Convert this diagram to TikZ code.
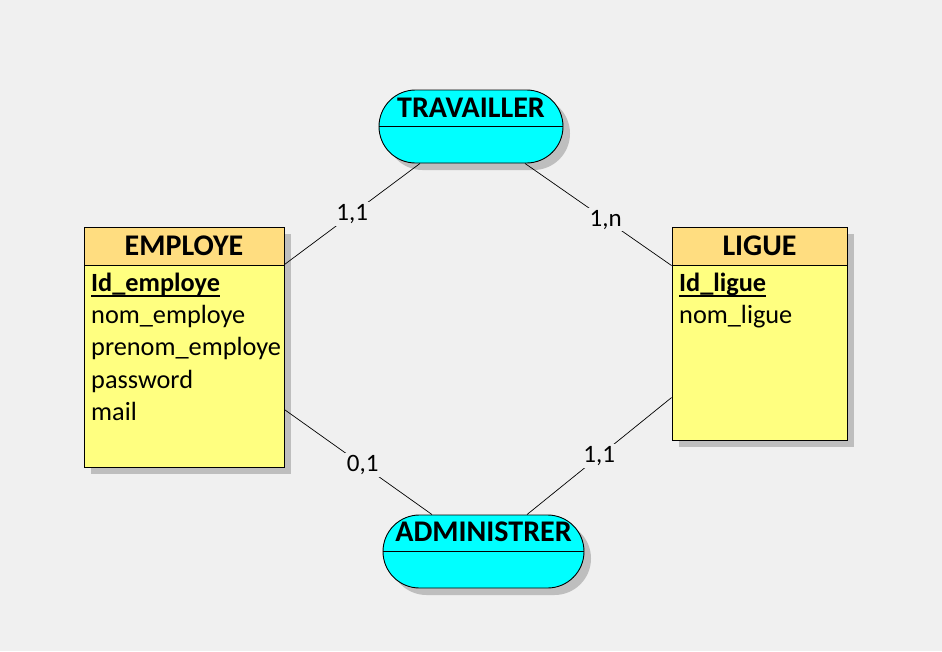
\documentclass[tikz,border=0pt]{standalone}
\usepackage{fontspec}
\setmainfont{Carlito}
\usetikzlibrary{shapes.misc,calc,shadows}
\definecolor{bgc}{RGB}{240,240,240}
\definecolor{headc}{RGB}{255,221,128}
\definecolor{bodyc}{RGB}{255,255,128}
\definecolor{assoc}{RGB}{0,255,255}
\definecolor{shadc}{RGB}{190,190,190}
\begin{document}
\begin{tikzpicture}[x=1pt,y=1pt,
  shad/.style={drop shadow={shadow xshift=7pt,shadow yshift=-7pt,fill=shadc,opacity=1}},
  entbox/.style={draw=black,line width=0.9pt,fill=bodyc,rectangle,inner sep=0pt,shad},
  headbox/.style={draw=black,line width=0.9pt,fill=headc,rectangle,inner sep=0pt},
  assobox/.style={draw=black,line width=0.9pt,fill=assoc,rounded rectangle,inner sep=0pt,shad},
  ttl/.style={anchor=base,inner sep=0pt,font=\fontsize{30}{32}\selectfont\bfseries},
  attr/.style={anchor=base west,inner sep=0pt,font=\fontsize{26.3}{30}\selectfont},
  idattr/.style={attr,font=\fontsize{26.3}{30}\selectfont\bfseries},
  conn/.style={draw=black,line width=0.7pt},
  card/.style={fill=bgc,inner sep=2pt,font=\fontsize{25}{27}\selectfont}]
\fill[bgc] (0,0) rectangle (942,-651);
\useasboundingbox (0,0) rectangle (942,-651);

% EMPLOYE
\node[entbox,minimum width=200pt,minimum height=240pt] (emp) at (184,-347) {};
\node[headbox,minimum width=200pt,minimum height=38pt,anchor=north] (emph) at (emp.north) {};
\node[ttl] (empt) at ($(emp.north)+(0,-29)$) {EMPLOYE};
\node[idattr] (empa1) at (91,-291) {Id\_employe};
\draw[line width=1.1pt] ($(empa1.base west)+(0,-5)$) -- ($(empa1.base east)+(0,-5)$);
\node[attr] (empa2) at (91,-323.3) {nom\_employe};
\node[attr] (empa3) at (91,-355.6) {prenom\_employe};
\node[attr] (empa4) at (91,-388) {password};
\node[attr] (empa5) at (91,-420.3) {mail};

% LIGUE
\node[entbox,minimum width=175pt,minimum height=213pt] (lig) at (759.5,-333.5) {};
\node[headbox,minimum width=175pt,minimum height=38pt,anchor=north] (ligh) at (lig.north) {};
\node[ttl] (ligt) at ($(lig.north)+(0,-29)$) {LIGUE};
\node[idattr] (liga1) at (679,-291) {Id\_ligue};
\draw[line width=1.1pt] ($(liga1.base west)+(0,-5)$) -- ($(liga1.base east)+(0,-5)$);
\node[attr] (liga2) at (679,-323.3) {nom\_ligue};

% TRAVAILLER
\node[assobox,minimum width=184pt,minimum height=73pt] (trav) at (471,-126.5) {};
\draw[line width=0.9pt] (trav.west) -- (trav.east);
\node[ttl] (travt) at (471,-117.3) {TRAVAILLER};

% ADMINISTRER
\node[assobox,minimum width=201pt,minimum height=73pt] (adm) at (483.5,-551.5) {};
\draw[line width=0.9pt] (adm.west) -- (adm.east);
\node[ttl] (admt) at (483.5,-541.7) {ADMINISTRER};

% connector ends
\coordinate (e1) at ($(emp.north east)+(0,-38)$);
\coordinate (t1) at ($(trav.south)+(-51,0)$);
\coordinate (t2) at ($(trav.south)+(54,0)$);
\coordinate (l1) at ($(lig.north west)+(0,-39)$);
\coordinate (e2) at ($(emp.north east)+(0,-183)$);
\coordinate (a1) at ($(adm.north)+(-51.5,0)$);
\coordinate (l2) at ($(lig.north west)+(0,-171)$);
\coordinate (a2) at ($(adm.north)+(43.5,0)$);

\draw[conn] (e1) -- node[card,pos=0.5] (c1) {1,1} (t1);
\draw[conn] (t2) -- node[card,pos=0.55] (c2) {1,n} (l1);
\draw[conn] (e2) -- node[card,pos=0.53] (c3) {0,1} (a1);
\draw[conn] (l2) -- node[card,pos=0.5] (c4) {1,1} (a2);
\end{tikzpicture}
\end{document}
